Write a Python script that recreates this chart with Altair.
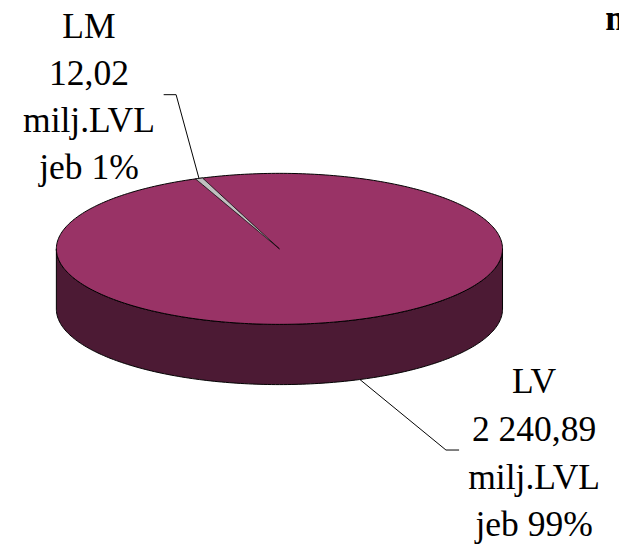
import numpy as np
import pandas as pd
import altair as alt

# ---- data ----
names = ["LV", "LM"]
values = [2240.89, 12.02]
unit_label = "milj.LVL"
share_prefix = "jeb"
title_fragment = "m"

# ---- layout / style constants ----
W, H = 619, 536
A_PX = 226.0
CX, CY = 275.0, 240.5
TILT = 0.3385
DEPTH = 0.27
START_DEG = 112.1
slice_order = ["LM", "LV"]
top_colors = {"LV": "#993366", "LM": "#C0C0C0"}
side_color = "#4C1A34"
FONT = "Liberation Serif"

total = sum(values)
val = dict(zip(names, values))

angles = {}
a = START_DEG
for n in slice_order:
    span = 360.0 * val[n] / total
    angles[n] = (a, a - span)
    a -= span

def px2u(px, py):
    return (px - CX) / A_PX, (CY - py) / A_PX

xdom = [-CX / A_PX, (W - CX) / A_PX]
ydom = [-(H - CY) / A_PX, CY / A_PX]
xs = alt.Scale(domain=xdom, nice=False, zero=False)
ys = alt.Scale(domain=ydom, nice=False, zero=False)

# side wall (front half)
t = np.linspace(np.pi, 2 * np.pi, 181)
side = pd.DataFrame({"x": np.cos(t), "y": TILT * np.sin(t)})
side["y2"] = side["y"] - DEPTH
side = side.sort_values("x")

# top face
t = np.linspace(np.pi, 0, 181)
top = pd.DataFrame({"x": np.cos(t), "y": TILT * np.sin(t), "y2": -TILT * np.sin(t)})

# LM wedge on top face
s0, s1 = np.radians(angles["LM"][0]), np.radians(angles["LM"][1])
p1 = (np.cos(s0), TILT * np.sin(s0))
p2 = (np.cos(s1), TILT * np.sin(s1))
xw = np.unique(np.concatenate([np.linspace(p1[0], 0, 80), [p2[0]]]))
lower = p1[1] / p1[0] * xw
upper = np.minimum(p2[1] / p2[0] * xw, TILT * np.sqrt(np.clip(1 - xw ** 2, 0, None)))
wedge = pd.DataFrame({"x": xw, "y": lower, "y2": upper})

# leader lines
elbows = {"LM": [(170.3, 84.3), (157.7, 84.3)], "LV": [(443.7, 444.3), (457.0, 444.3)]}
rows = []
for n in names:
    m = np.radians((angles[n][0] + angles[n][1]) / 2)
    ax, ay = np.cos(m), TILT * np.sin(m)
    if np.sin(m) < 0:
        ay -= DEPTH
    pts = [(ax, ay)] + [px2u(*e) for e in elbows[n]]
    for i, (x, y) in enumerate(pts):
        rows.append({"leader": n, "o": i, "x": x, "y": y})
leaders = pd.DataFrame(rows)

def fmt(v):
    return f"{v:,.2f}".replace(",", " ").replace(".", ",")

labels = {n: [n, fmt(val[n]), unit_label, f"{share_prefix} {round(100 * val[n] / total)}%"] for n in names}
label_pos = {"LM": (82, 27, 47.5), "LV": (533, 387, 48.3)}

X = lambda: alt.X("x:Q", scale=xs, axis=None)
Y = lambda: alt.Y("y:Q", scale=ys, axis=None)

side_l = alt.Chart(side).mark_area(color=side_color, stroke="#000", strokeWidth=1).encode(
    x=X(), y=Y(), y2="y2:Q")
top_l = alt.Chart(top).mark_area(color=top_colors["LV"], stroke="#000", strokeWidth=1).encode(
    x=X(), y=Y(), y2="y2:Q")
wedge_l = alt.Chart(wedge).mark_area(color=top_colors["LM"], stroke="#000", strokeWidth=0.8).encode(
    x=X(), y=Y(), y2="y2:Q")
lead_l = alt.Chart(leaders).mark_line(color="#000", strokeWidth=1).encode(
    x=X(), y=Y(), detail="leader:N", order="o:Q")

layers = [side_l, top_l, wedge_l, lead_l]
for n in names:
    lx, ly, lh = label_pos[n]
    layers.append(
        alt.Chart(alt.Data(values=[{}])).mark_text(
            text=labels[n], font=FONT, fontSize=36, align="center", baseline="alphabetic",
            lineHeight=lh, color="#000"
        ).encode(x=alt.value(lx), y=alt.value(ly))
    )
layers.append(
    alt.Chart(alt.Data(values=[{}])).mark_text(
        text=title_fragment, font=FONT, fontSize=36, fontWeight="bold", align="left",
        baseline="alphabetic", color="#000"
    ).encode(x=alt.value(605), y=alt.value(19))
)

chart = alt.layer(*layers).properties(
    width=W, height=H, padding=0, autosize="none", background="white"
).configure_view(stroke=None)

chart.save("out.html", embed_options={"renderer": "svg", "actions": False})
